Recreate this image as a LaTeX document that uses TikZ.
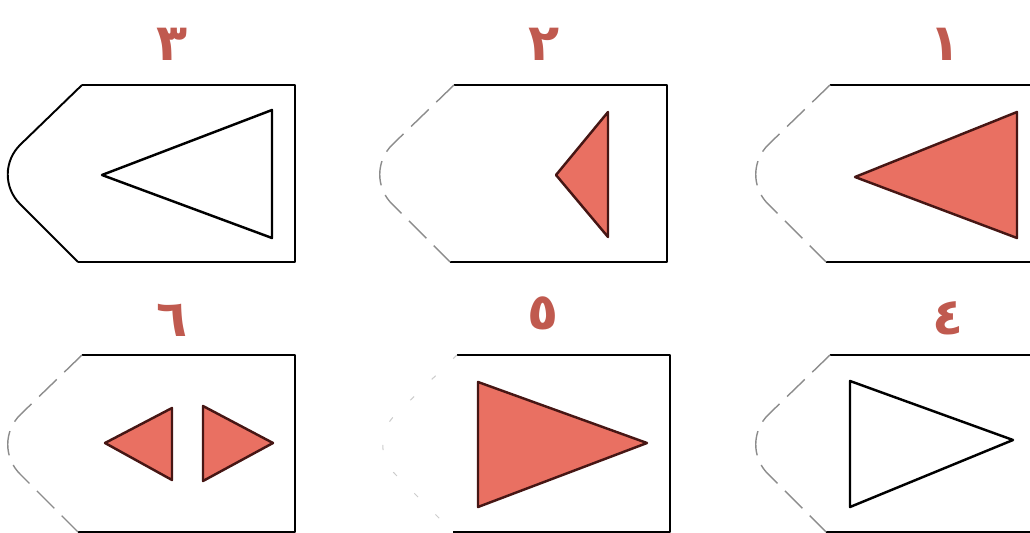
\documentclass[tikz,border=0pt]{standalone}
\usepackage{fontspec}
\usepackage{tikz}
\usetikzlibrary{calc}
\newfontfamily\arabicfont[Script=Arabic]{DejaVu Sans}
\TeXXeTstate=1
\definecolor{salmon}{RGB}{233,112,98}
\definecolor{inkred}{RGB}{70,22,20}

% tag outline: #1 right edge x, #2 top y, #3 style of the nose
\newcommand{\tagbox}[3]{%
  \draw[tagline] (#1-213,#2) -- (#1,#2) -- (#1,#2+177) -- (#1-217,#2+177);
  \draw[#3,rounded corners=0.85cm] (#1-213,#2) -- (#1-305,#2+89) -- (#1-217,#2+177);
}

\begin{document}
\begin{tikzpicture}[
  x=0.02cm, y=-0.02cm,
  tagline/.style={draw=black,line width=1.1pt,line join=round},
  nosefull/.style={draw=black,line width=1.1pt},
  nosefaint/.style={draw=black!45,line width=0.8pt,dash pattern=on 14pt off 6pt},
  nosegone/.style={draw=black!20,line width=0.6pt,dash pattern=on 3pt off 14pt},
  tri/.style={draw=black,line width=1.4pt,line join=round,fill=white},
  trired/.style={draw=inkred,line width=1.4pt,line join=round,fill=salmon},
  num/.style={text=salmon!75!inkred,font=\arabicfont\bfseries\fontsize{29}{33}\selectfont,
              inner sep=0pt}
]
\clip (0,0) rectangle (1030,533);

%% ── top row ───────────────────────────────────────────────────────────────
\node[num] (lbl3) at (172,44)  {\beginR ٣\endR};
\node[num] (lbl2) at (544,44)  {\beginR ٢\endR};
\node[num] (lbl1) at (945,44)  {\beginR ١\endR};

\tagbox{295}{85}{nosefull}
\tagbox{667}{85}{nosefaint}
\tagbox{1043}{85}{nosefaint}

\draw[tri]    (102,175) -- (272,110) -- (272,238) -- cycle;
\draw[trired] (556,175) -- (608,112) -- (608,237) -- cycle;
\draw[trired] (855,177) -- (1017,112) -- (1017,238) -- cycle;

%% ── bottom row ────────────────────────────────────────────────────────────
\node[num] (lbl6) at (172,320) {\beginR ٦\endR};
\node[num] (lbl5) at (543,313) {\beginR ٥\endR};
\node[num] (lbl4) at (948,318) {\beginR ٤\endR};

\tagbox{295}{355}{nosefaint}
\tagbox{670}{355}{nosegone}
\tagbox{1043}{355}{nosefaint}

\draw[trired] (105,443) -- (172,408) -- (172,480) -- cycle;
\draw[trired] (203,406) -- (273,443) -- (203,481) -- cycle;
\draw[trired] (478,382) -- (647,443) -- (478,507) -- cycle;
\draw[tri]    (850,381) -- (1013,440) -- (850,507) -- cycle;
\end{tikzpicture}
\end{document}
